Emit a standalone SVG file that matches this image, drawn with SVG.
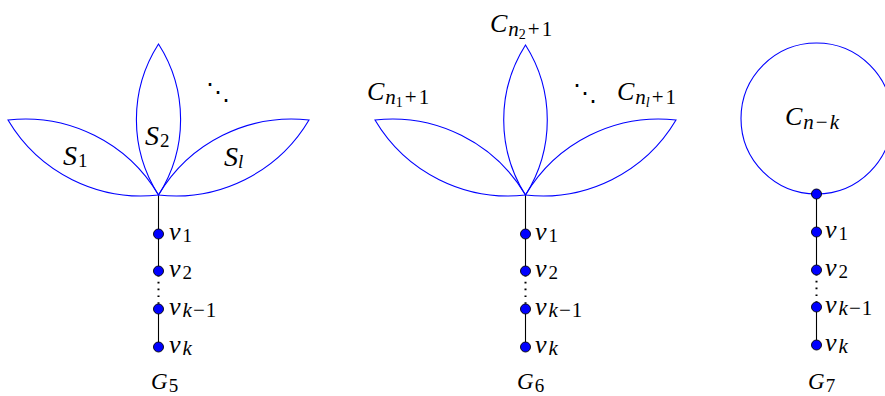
<svg xmlns="http://www.w3.org/2000/svg" width="885" height="396" viewBox="0 0 885 396">
<style>
.petal{fill:none;stroke:#0000ff;stroke-width:1.1}
.edge{stroke:#000;stroke-width:1.1}
.dot{stroke:#000;stroke-width:2;stroke-dasharray:1.6 5.2}
.node{fill:#0000ff;stroke:#000;stroke-width:0.9}
.t{font-family:'Liberation Serif','DejaVu Serif',serif;font-style:italic;fill:#000}
.up{font-style:normal}
.vl{font-size:26px}
.sub{font-size:19px}
.sc{font-size:21px}
.ss{font-size:14px}
.dots{font-family:'DejaVu Sans',sans-serif;font-style:normal;font-size:24px}
</style>
<rect width="885" height="396" fill="#fff"/>
<g id="connectors">
<line class="edge" x1="158.5" y1="195" x2="158.5" y2="271"/>
<line class="dot" x1="158.5" y1="275" x2="158.5" y2="309"/>
<line class="edge" x1="158.5" y1="309" x2="158.5" y2="347"/>
<line class="edge" x1="525.5" y1="195" x2="525.5" y2="271"/>
<line class="dot" x1="525.5" y1="275" x2="525.5" y2="309"/>
<line class="edge" x1="525.5" y1="309" x2="525.5" y2="347"/>
<line class="edge" x1="816.5" y1="194" x2="816.5" y2="270"/>
<line class="dot" x1="816.5" y1="274" x2="816.5" y2="307"/>
<line class="edge" x1="816.5" y1="307" x2="816.5" y2="345"/>
</g>
<g id="G5">
<g id="G5-petals">
<path class="petal" d="M 8 120 A 155 155 0 0 1 158.5 195 A 155 155 0 0 1 8 120 Z"/>
<path class="petal" d="M 158.5 195 A 140 140 0 0 0 158.5 44 A 140 140 0 0 0 158.5 195 Z"/>
<path class="petal" d="M 309 120 A 155 155 0 0 0 158.5 195 A 155 155 0 0 0 309 120 Z"/>
</g>
<text class="t" x="63" y="165" font-size="28">S<tspan class="up sub" dy="2" dx="1">1</tspan></text>
<text class="t" x="145" y="145" font-size="28">S<tspan class="up sub" dy="2" dx="1">2</tspan></text>
<text class="t" x="224" y="166" font-size="28">S<tspan class="sub" dy="2">l</tspan></text>
<text class="dots" x="206" y="100">⋱</text>
<circle class="node" id="G5-v1" cx="158.5" cy="234" r="5"/>
<circle class="node" id="G5-v2" cx="158.5" cy="271" r="5"/>
<circle class="node" id="G5-vk1" cx="158.5" cy="309" r="5"/>
<circle class="node" id="G5-vk" cx="158.5" cy="347" r="5"/>
<text class="t vl" x="169" y="240">v<tspan class="up sub" dy="2" dx="2">1</tspan></text>
<text class="t vl" x="169" y="277">v<tspan class="up sub" dy="2" dx="2">2</tspan></text>
<text class="t vl" x="169" y="315">v<tspan class="sc" dy="2" dx="2">k</tspan><tspan class="up sc" dx="1">−</tspan><tspan class="up sc" dx="1">1</tspan></text>
<text class="t vl" x="169" y="353">v<tspan class="sc" dy="2" dx="2">k</tspan></text>
<text class="t" x="151" y="389" font-size="23">G<tspan class="up sub" dy="3" dx="1">5</tspan></text>
</g>
<g id="G6">
<g id="G6-petals">
<path class="petal" d="M 375 120 A 155 155 0 0 1 525.5 195 A 155 155 0 0 1 375 120 Z"/>
<path class="petal" d="M 525.5 195 A 140 140 0 0 0 525.5 45 A 140 140 0 0 0 525.5 195 Z"/>
<path class="petal" d="M 676 120 A 155 155 0 0 0 525.5 195 A 155 155 0 0 0 676 120 Z"/>
</g>
<text class="t" x="367" y="100" font-size="26">C<tspan class="sc" dy="4" dx="1">n</tspan><tspan class="up ss" dy="3">1</tspan><tspan class="up sc" dy="-3" dx="2">+</tspan><tspan class="up sc" dx="2">1</tspan></text>
<text class="t" x="490" y="32" font-size="26">C<tspan class="sc" dy="4" dx="1">n</tspan><tspan class="up ss" dy="3">2</tspan><tspan class="up sc" dy="-3" dx="2">+</tspan><tspan class="up sc" dx="2">1</tspan></text>
<text class="t" x="617" y="100" font-size="26">C<tspan class="sc" dy="4" dx="1">n</tspan><tspan class="ss" dy="3">l</tspan><tspan class="up sc" dy="-3" dx="2">+</tspan><tspan class="up sc" dx="2">1</tspan></text>
<text class="dots" x="573" y="101">⋱</text>
<circle class="node" id="G6-v1" cx="525.5" cy="234" r="5"/>
<circle class="node" id="G6-v2" cx="525.5" cy="271" r="5"/>
<circle class="node" id="G6-vk1" cx="525.5" cy="309" r="5"/>
<circle class="node" id="G6-vk" cx="525.5" cy="347" r="5"/>
<text class="t vl" x="535" y="240">v<tspan class="up sub" dy="2" dx="2">1</tspan></text>
<text class="t vl" x="535" y="277">v<tspan class="up sub" dy="2" dx="2">2</tspan></text>
<text class="t vl" x="535" y="315">v<tspan class="sc" dy="2" dx="2">k</tspan><tspan class="up sc" dx="1">−</tspan><tspan class="up sc" dx="1">1</tspan></text>
<text class="t vl" x="535" y="353">v<tspan class="sc" dy="2" dx="2">k</tspan></text>
<text class="t" x="517" y="389" font-size="23">G<tspan class="up sub" dy="3" dx="1">6</tspan></text>
</g>
<g id="G7">
<circle class="petal" cx="816.5" cy="118.5" r="75.5"/>
<text class="t" x="785" y="125" font-size="26">C<tspan class="sc" dy="4" dx="1">n</tspan><tspan class="up sc" dx="2">−</tspan><tspan class="sc" dx="2">k</tspan></text>
<circle class="node" id="G7-top" cx="816.5" cy="194" r="5"/>
<circle class="node" id="G7-v1" cx="816.5" cy="232" r="5"/>
<circle class="node" id="G7-v2" cx="816.5" cy="270" r="5"/>
<circle class="node" id="G7-vk1" cx="816.5" cy="307" r="5"/>
<circle class="node" id="G7-vk" cx="816.5" cy="345" r="5"/>
<text class="t vl" x="825" y="238">v<tspan class="up sub" dy="2" dx="2">1</tspan></text>
<text class="t vl" x="825" y="276">v<tspan class="up sub" dy="2" dx="2">2</tspan></text>
<text class="t vl" x="825" y="313">v<tspan class="sc" dy="2" dx="2">k</tspan><tspan class="up sc" dx="1">−</tspan><tspan class="up sc" dx="1">1</tspan></text>
<text class="t vl" x="825" y="351">v<tspan class="sc" dy="2" dx="2">k</tspan></text>
<text class="t" x="808" y="389" font-size="23">G<tspan class="up sub" dy="3" dx="1">7</tspan></text>
</g>
</svg>
